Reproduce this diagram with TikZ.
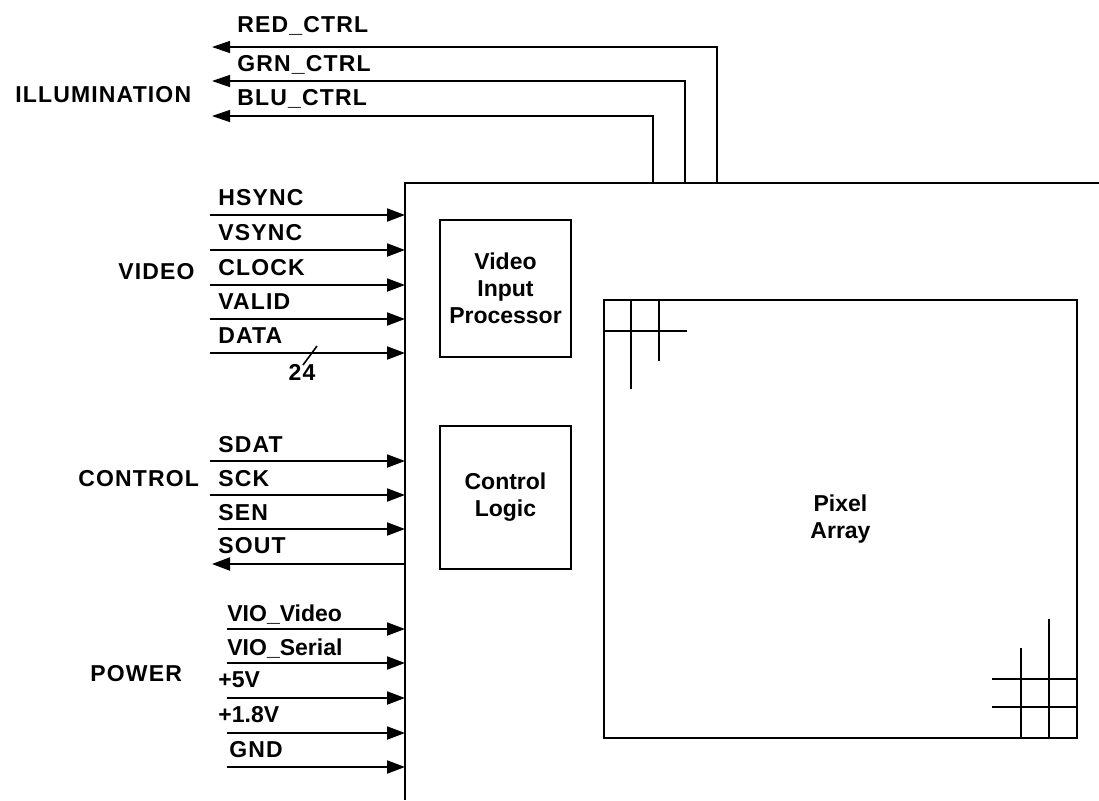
\documentclass[tikz,border=0pt]{standalone}
\usepackage{fontspec}
\setmainfont[LetterSpace=5]{Liberation Sans}
\newfontfamily\plainface{Liberation Sans}
\usetikzlibrary{arrows.meta}

\begin{document}
\begin{tikzpicture}[x=0.5pt,y=-0.5pt,
	every node/.style={font=\fontsize{11.5}{13.5}\selectfont\bfseries},
	sig/.style={line width=1pt,-{Triangle[length=9pt,width=6.5pt]}},
	ill/.style={line width=0.6pt,-{Triangle[length=9pt,width=6pt]}},
	lbl/.style={anchor=base west,inner sep=0pt},
	blk/.style={draw,line width=1pt,align=center,inner sep=0pt,font=\fontsize{11.5}{13.5}\plainface\bfseries}]
	\useasboundingbox (0,0) rectangle (1099,800);
	% chip outline, runs off the right and bottom
	\coordinate (chipL) at (405,183);
	\draw[line width=1.3pt] (1099,183) -- (chipL) -- (405,800);
	\node[blk,minimum width=65.5pt,minimum height=68.5pt] (vip) at (505.5,288.5) {Video\\Input\\Processor};
	\node[blk,minimum width=65.5pt,minimum height=71.5pt] (ctl) at (505.5,497.5) {Control\\Logic};
	\node[blk,minimum width=236.5pt,minimum height=219pt] (pix) at (840.5,519) {Pixel\\Array};
	% pixel grid corners
	\draw[line width=1pt] (631,301) -- (631,389) (659,301) -- (659,361) (604,331) -- (687,331);
	\draw[line width=1pt] (1021,648) -- (1021,738) (1049,619) -- (1049,738) (992,679) -- (1077,679) (992,707) -- (1077,707);
	% illumination outputs
	\foreach \x/\y/\b/\t [count=\i] in {717/47/32/RED\_CTRL,685/81/71/GRN\_CTRL,653/116/105/BLU\_CTRL} {
		\coordinate (src\i) at (\x,183);
		\coordinate (ill\i) at (212,\y);
		\draw[ill] (src\i) |- (ill\i);
		\node[lbl] (illt\i) at (237,\b) {\t};
	}
	% inputs
	\foreach \s/\y/\lx/\b/\t [count=\i] in {210/215/218/205/HSYNC,210/250/218/240/VSYNC,210/285/218/275/CLOCK,
		210/319/218/309/VALID,210/353/218/343/DATA,210/461/218/452/SDAT,210/495/218/486/SCK,218/529/218/520/SEN,
		227/629/227/621/{\plainface VIO\_Video},227/663/227/655/{\plainface VIO\_Serial},227/698/218/687/{\plainface +5V},
		227/733/218/722/{\plainface +1.8V},227/767/229/757/GND} {
		\coordinate (in\i) at (\s,\y);
		\draw[sig] (in\i) -- (in\i -| chipL);
		\node[lbl] (int\i) at (\lx,\b) {\t};
	}
	% serial out
	\coordinate (sout) at (212,564);
	\draw[sig] (sout -| chipL) -- (sout);
	\node[lbl] (soutt) at (218,553) {SOUT};
	% bus width
	\draw[line width=0.8pt] (303,365) -- (317,346);
	\node[inner sep=0pt] (bus) at (302,372) {24};
	% groups
	\node[lbl] (illum) at (15,102) {ILLUMINATION};
	\node[lbl] (video) at (118,279) {VIDEO};
	\node[lbl] (control) at (78,486) {CONTROL};
	\node[lbl] (power) at (90,681) {POWER};
\end{tikzpicture}
\end{document}
